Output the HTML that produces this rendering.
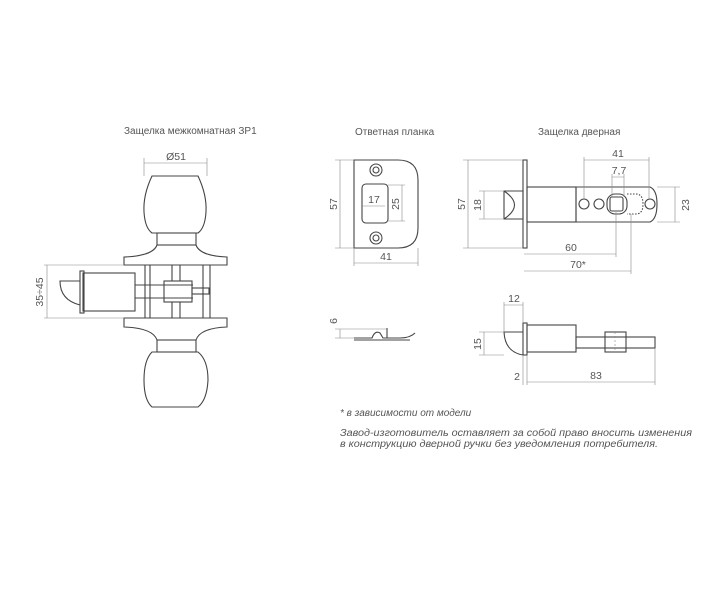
<!DOCTYPE html>
<html><head><meta charset="utf-8"><style>
html,body{margin:0;padding:0;background:#fff;}
svg{display:block}
text{font-family:"Liberation Sans","DejaVu Sans",sans-serif;fill:#555;}
.t{font-size:10px;}
.d{font-size:10.5px;}
</style></head><body>
<svg width="713" height="613" viewBox="0 0 713 613" xmlns="http://www.w3.org/2000/svg">
<g fill="none" stroke="#444" stroke-width="1.1">
<path d="M152,176 H198 Q207,195 206,212 Q205,228 198,233 H152 Q145,228 144,212 Q143,195 152,176 Z"/>
<rect x="157" y="233" width="39" height="12"/>
<path d="M157,245 Q153,256 124,257 V265 H227 V257 Q200,256 196,245"/>
<path d="M124,318 H227 V327 Q200,328 196,340 H157 Q153,328 124,327 Z"/>
<rect x="157" y="340" width="39" height="12"/>
<path d="M152,352 H198 Q208,360 208,380 Q207,400 198,407 H152 Q144,400 144,380 Q144,360 152,352 Z"/>
<path d="M145,265 V318 M150,265 V318 M172,265 V281 M172,302 V318 M180,265 V281 M180,302 V318 M203,265 V318 M210,265 V318"/>
<rect x="83" y="273" width="52" height="38"/>
<rect x="80" y="271" width="4" height="42"/>
<path d="M80,281 H60 Q60,300 80,305"/>
<path d="M135,285 H193 M135,298 H193"/>
<rect x="164" y="281" width="28" height="21"/>
<rect x="192" y="288" width="17" height="6"/>
<path d="M354,160 H398 Q418,160 418,180 V228 Q418,248 398,248 H354 Z"/>
<circle cx="376" cy="170" r="6"/><circle cx="376" cy="170" r="3"/>
<circle cx="376" cy="238" r="6"/><circle cx="376" cy="238" r="3"/>
<rect x="362" y="184" width="26" height="39" rx="4"/>
<path d="M354,338 H372 Q375,330 380,333 L383,338 H400 Q410,338 415,333 M387,328 V338 M354,340 H410"/>
<rect x="523" y="160" width="4" height="88"/>
<path d="M504,191 H523 V219 H504 Z M504,191 Q525,205 504,219"/>
<rect x="527" y="187" width="49" height="35"/>
<path d="M576,187 H650 Q657,190 657,204 Q657,219 650,222 H576 Z"/>
<circle cx="584" cy="204" r="5"/><circle cx="599" cy="204" r="5"/><circle cx="650" cy="204" r="5"/>
<rect x="607" y="194" width="20" height="20" rx="8"/>
<rect x="610" y="197" width="13" height="14" rx="2"/>
<path d="M627,194 H636 Q643,194 643,204 Q643,214 636,214 H627" stroke-dasharray="1.5 1.5"/>
<rect x="523" y="323" width="4" height="32"/>
<path d="M523,332 H504 Q505,352 523,355"/>
<rect x="527" y="325" width="49" height="27"/>
<rect x="576" y="337" width="79" height="11"/>
<rect x="605" y="332" width="21" height="20"/>
</g>
<g stroke="#888" stroke-width="0.6" fill="none">
<path d="M144,163 H207 M144,158 V176 M207,158 V176"/>
<path d="M47,265 V318 M44,265 H123 M44,318 H123"/>
<path d="M340,160 V248 M335,160 H354 M335,248 H354"/>
<path d="M362,206 H385 M402,185 V221 M388,185 H405 M388,221 H405"/>
<path d="M354,263 H418 M354,248 V266 M418,248 V266"/>
<path d="M340,329 V338 M335,329 H387 M335,338 H354"/>
<path d="M468,160 V248 M463,160 H523 M463,248 H523"/>
<path d="M484,191 V219 M479,191 H504 M479,219 H504"/>
<path d="M584,160 H649 M584,157 V199 M649,157 V199"/>
<path d="M612,177 H624 M612,174 V197 M624,174 V197"/>
<path d="M675,187 V222 M657,187 H680 M657,222 H680"/>
<path d="M524,254 H616 M616,212 V257 M524,271 H631 M631,214 V274"/>
<path d="M504,305 H523 M504,302 V332 M523,302 V323"/>
<path d="M484,332 V355 M479,332 H504 M479,355 H504"/>
<path d="M527,382 H655 M655,348 V385 M523,355 V385 M527,355 V385"/>
<path d="M615,332 V352" stroke-dasharray="2 2"/>
</g>
<g class="t">
<text x="124" y="134">Защелка межкомнатная ЗР1</text>
<text x="355" y="135">Ответная планка</text>
<text x="538" y="135">Защелка дверная</text>
</g>
<g class="d" text-anchor="middle">
<text x="176" y="160">Ø51</text>
<text transform="translate(43,292) rotate(-90)">35÷45</text>
<text transform="translate(337,204) rotate(-90)">57</text>
<text x="374" y="203">17</text>
<text transform="translate(399,204) rotate(-90)">25</text>
<text x="386" y="260">41</text>
<text transform="translate(337,321) rotate(-90)">6</text>
<text transform="translate(465,204) rotate(-90)">57</text>
<text transform="translate(481,205) rotate(-90)">18</text>
<text x="618" y="157">41</text>
<text x="619" y="174">7,7</text>
<text transform="translate(689,205) rotate(-90)">23</text>
<text x="571" y="251">60</text>
<text x="578" y="268">70*</text>
<text x="514" y="302">12</text>
<text transform="translate(481,344) rotate(-90)">15</text>
<text x="517" y="380">2</text>
<text x="596" y="379">83</text>
</g>
<g style="font-style:italic;font-size:10px">
<text x="340" y="416">* в зависимости от модели</text>
<text x="340" y="436" textLength="352" lengthAdjust="spacingAndGlyphs">Завод-изготовитель оставляет за собой право вносить изменения</text>
<text x="340" y="447" textLength="318" lengthAdjust="spacingAndGlyphs">в конструкцию дверной ручки без уведомления потребителя.</text>
</g>
</svg>
</body></html>
